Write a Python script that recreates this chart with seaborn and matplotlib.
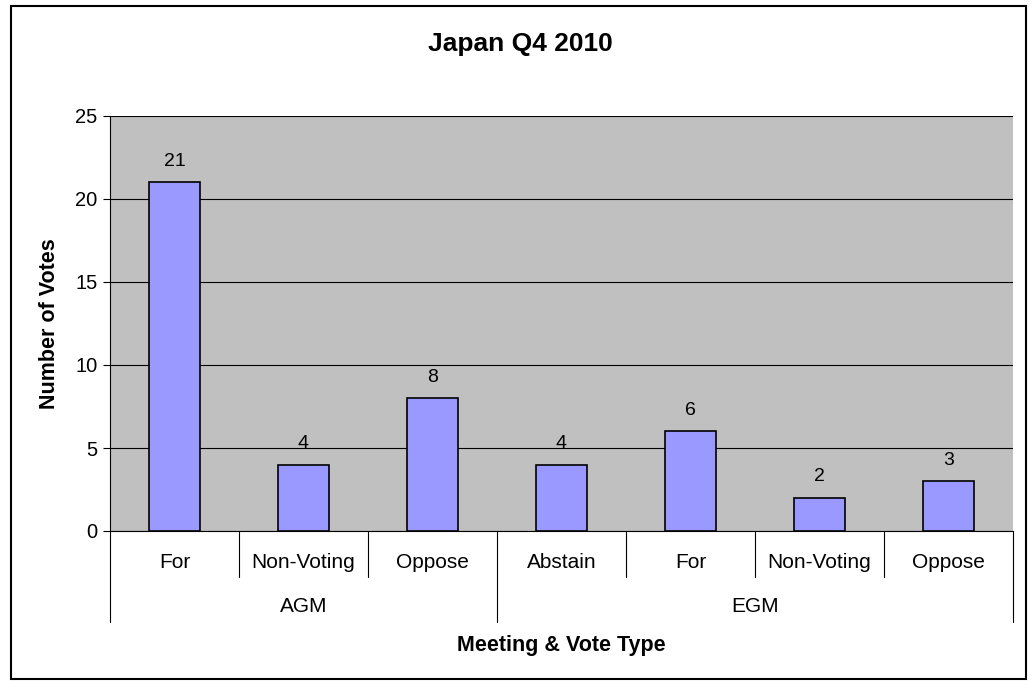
import pandas as pd
import matplotlib.pyplot as plt
import matplotlib.patches as patches
import matplotlib.transforms as mtransforms
import seaborn as sns

# Данные графика
meetings = ["AGM", "AGM", "AGM", "EGM", "EGM", "EGM", "EGM"]
vote_types = ["For", "Non-Voting", "Oppose", "Abstain", "For", "Non-Voting", "Oppose"]
votes = [21, 4, 8, 4, 6, 2, 3]
y_ticks = [0, 5, 10, 15, 20, 25]


def draw_chart():
    sns.set_style("white")
    plt.rcParams['font.family'] = ['Liberation Sans', 'DejaVu Sans']
    plt.rcParams['text.color'] = 'black'
    plt.rcParams['axes.labelcolor'] = 'black'
    plt.rcParams['ytick.color'] = 'black'
    plt.rcParams['xtick.color'] = 'black'

    df = pd.DataFrame({
        'key': [f"{m}|{v}" for m, v in zip(meetings, vote_types)],
        'meeting': meetings,
        'vote': vote_types,
        'votes': votes,
    })

    fig = plt.figure(figsize=(10.32, 6.81), dpi=100)
    ax = fig.add_axes([110 / 1032, 1 - 531 / 681, (1013 - 110) / 1032, (531 - 116) / 681])
    ax.set_facecolor('#C0C0C0')

    sns.barplot(x='key', y='votes', data=df, color='#9999FF', width=0.4,
                edgecolor='black', linewidth=1.2, saturation=1, ax=ax, zorder=3)

    for c in ax.containers:
        ax.bar_label(c, padding=9, fontsize=14, color='black')

    ax.set_ylim(0, 25)
    ax.set_xlim(-0.5, len(votes) - 0.5)
    ax.set_yticks(y_ticks)
    ax.yaxis.grid(True, color='black', linewidth=0.8)
    ax.set_axisbelow(True)
    ax.tick_params(axis='y', labelsize=14.5, length=5, width=0.8, color='black', left=True, pad=4)
    ax.set_xticks([])
    ax.set_xlabel('')
    ax.set_ylabel('Number of Votes', fontsize=15.5, fontweight='bold', labelpad=11)

    for side in ['top', 'right']:
        ax.spines[side].set_visible(False)
    for side in ['left', 'bottom']:
        ax.spines[side].set_color('black')
        ax.spines[side].set_linewidth(0.8)

    # Двухуровневые подписи категорий
    trans = mtransforms.blended_transform_factory(ax.transData, fig.transFigure)
    y0 = 1 - 531 / 681
    y_sub = 1 - 577 / 681
    y_grp = 1 - 622 / 681
    n = len(vote_types)
    for i in range(n + 1):
        x = i - 0.5
        is_group_edge = i == 0 or i == n or meetings[i] != meetings[i - 1]
        ax.plot([x, x], [y0, y_grp if is_group_edge else y_sub], transform=trans,
                color='black', linewidth=0.8, clip_on=False)
    for i, v in enumerate(vote_types):
        ax.text(i, 1 - 562 / 681, v, transform=trans, ha='center', va='center', fontsize=15)

    start = 0
    for i in range(1, n + 1):
        if i == n or meetings[i] != meetings[start]:
            ax.text((start + i - 1) / 2, 1 - 607 / 681, meetings[start], transform=trans,
                    ha='center', va='center', fontsize=15)
            start = i

    fig.text((110 + 1013) / 2 / 1032, 1 - 645 / 681, 'Meeting & Vote Type',
             ha='center', va='center', fontsize=15.5, fontweight='bold')
    fig.text(520 / 1032, 1 - 44 / 681, 'Japan Q4 2010',
             ha='center', va='center', fontsize=19, fontweight='bold')

    # Рамка вокруг всей диаграммы
    fig.patches.append(patches.Rectangle((11 / 1032, 1 - 679 / 681), (1026 - 11) / 1032,
                                         (679 - 6) / 681, transform=fig.transFigure,
                                         fill=False, edgecolor='black', linewidth=1.5))

    plt.savefig('out.png', dpi=100)


if __name__ == "__main__":
    draw_chart()
